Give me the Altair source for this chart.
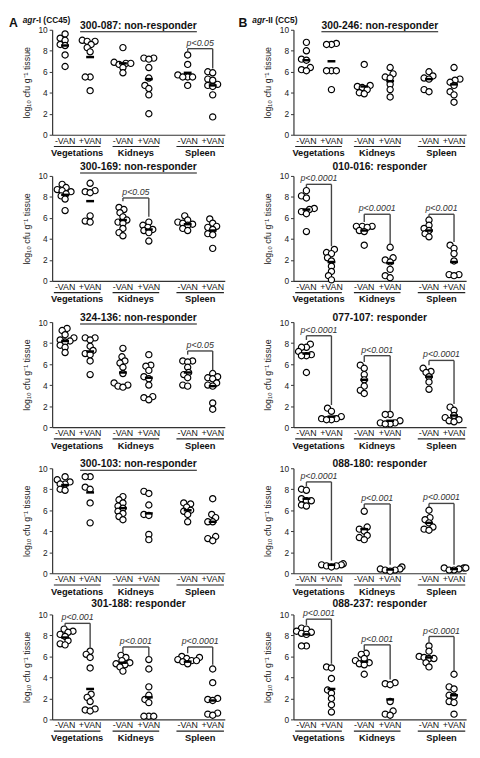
import altair as alt
import pandas as pd

# ---------------- data ----------------
ORGANS = ["Vegetations", "Kidneys", "Spleen"]
TREATMENTS = ["-VAN", "+VAN"]
HEADERS = [("A", "agr", "-I (CC45)"), ("B", "agr", "-II (CC5)")]

ISOLATES_A = ["300-087", "300-169", "324-136", "300-103", "301-188"]
STATUS_A = ["non-responder", "non-responder", "non-responder", "non-responder", "responder"]
ISOLATES_B = ["300-246", "010-016", "077-107", "088-180", "088-237"]
STATUS_B = ["non-responder", "responder", "responder", "responder", "responder"]

# order of groups: Veg -VAN, Veg +VAN, Kid -VAN, Kid +VAN, Spleen -VAN, Spleen +VAN
V_300_087 = [[9.6, 9.2, 9.0, 8.6, 8.5, 7.6, 6.5],
             [9.0, 8.9, 8.9, 8.6, 8.3, 7.9, 5.5, 5.5, 4.2],
             [8.3, 6.9, 6.8, 6.8, 6.7, 6.4, 5.9],
             [7.3, 7.3, 7.2, 6.4, 5.4, 4.7, 4.4, 3.8, 2.0],
             [7.6, 6.7, 5.7, 5.5, 5.5, 5.5, 4.7],
             [6.0, 5.9, 5.3, 5.2, 4.8, 4.7, 4.6, 3.8, 1.7]]
M_300_087 = [8.5, 7.4, 6.8, 5.3, 5.9, 4.7]
B_300_087 = [(2, "p<0.05", 8.2, 7.9, 6.3)]

V_300_169 = [[9.2, 8.9, 8.7, 8.6, 8.5, 8.3, 8.1, 7.8, 6.7],
             [9.3, 8.6, 8.5, 8.4, 6.2, 5.7, 5.6],
             [7.0, 6.8, 6.5, 6.1, 5.8, 5.6, 5.5, 5.0, 4.6, 4.3],
             [5.6, 5.3, 5.1, 4.9, 4.8, 4.6, 3.8],
             [6.2, 5.8, 5.6, 5.5, 5.4, 5.3, 5.0, 4.8],
             [5.9, 5.5, 5.2, 5.1, 4.9, 4.5, 4.4, 3.1]]
M_300_169 = [8.2, 7.6, 5.8, 4.9, 5.4, 4.8]
B_300_169 = [(1, "p<0.05", 7.9, 7.6, 6.1)]

V_324_136 = [[9.4, 9.2, 8.8, 8.5, 8.3, 8.2, 8.1, 7.8, 7.6, 7.1],
             [8.5, 8.5, 8.3, 7.7, 7.3, 7.0, 6.9, 6.3, 5.0],
             [7.5, 6.7, 6.3, 6.1, 5.7, 5.1, 4.2, 4.0, 3.9, 3.8],
             [6.9, 5.9, 5.8, 5.4, 4.8, 4.6, 4.0, 2.9, 2.8, 2.6],
             [6.3, 6.3, 6.2, 5.7, 5.2, 5.0, 4.7, 4.0, 3.9],
             [5.1, 4.8, 4.7, 4.6, 4.2, 4.0, 3.9, 2.3, 1.7]]
M_324_136 = [8.2, 7.2, 5.2, 4.7, 5.2, 3.9]
B_324_136 = [(2, "p<0.05", 7.25, 6.9, 5.4)]

V_300_103 = [[9.2, 8.9, 8.7, 8.5, 8.5, 8.0, 7.9],
             [9.2, 9.2, 8.2, 8.0, 6.7, 4.8],
             [7.3, 7.0, 6.7, 6.4, 6.2, 5.9, 5.7, 5.4, 5.1],
             [7.8, 7.6, 6.5, 5.6, 5.5, 3.7, 3.2],
             [6.7, 6.6, 6.3, 6.0, 5.9, 5.6, 4.9],
             [7.1, 5.6, 5.3, 4.9, 4.9, 3.5, 3.3, 3.1]]
M_300_103 = [8.4, 7.7, 6.2, 5.7, 6.0, 4.9]
B_300_103 = []

V_301_188 = [[8.6, 8.4, 8.3, 8.1, 7.9, 7.5, 7.2, 7.1],
             [6.5, 6.2, 5.9, 4.9, 2.4, 2.1, 1.7, 1.0, 0.9, 0.8],
             [6.1, 5.9, 5.6, 5.4, 5.3, 5.2, 5.0, 4.6],
             [5.7, 4.8, 3.1, 2.3, 1.9, 1.6, 0.3, 0.3, 0.3],
             [6.0, 5.9, 5.8, 5.7, 5.6, 5.6, 5.5, 5.3],
             [4.8, 3.5, 2.0, 1.9, 1.8, 0.6, 0.5, 0.4]]
M_301_188 = [7.8, 2.9, 5.4, 2.1, 5.5, 1.8]
B_301_188 = [(0, "p<0.001", 9.15, 8.8, 6.7), (1, "p<0.001", 6.9, 6.4, 6.0),
             (2, "p<0.0001", 6.9, 6.3, 5.2)]

V_300_246 = [[8.8, 8.0, 7.2, 7.1, 6.4, 6.2, 6.1],
             [8.7, 8.6, 8.6, 6.1, 6.1, 6.1, 4.3],
             [6.7, 4.7, 4.6, 4.5, 4.3, 4.0, 3.9],
             [6.4, 5.8, 5.5, 5.4, 4.8, 4.3, 3.6],
             [6.0, 5.6, 5.4, 5.3, 4.3, 4.1],
             [6.4, 5.3, 5.2, 5.0, 4.7, 4.1, 3.8, 3.1]]
M_300_246 = [7.1, 7.0, 4.6, 5.1, 5.3, 4.8]
B_300_246 = []

V_010_016 = [[8.6, 8.1, 7.9, 6.9, 6.8, 6.6, 6.4, 4.7],
             [3.0, 2.7, 2.6, 2.2, 1.9, 1.4, 0.9, 0.5, 0.1],
             [5.2, 5.2, 5.2, 5.1, 4.8, 4.7, 3.4],
             [3.2, 2.2, 2.0, 1.8, 1.1, 0.5, 0.3],
             [5.8, 5.3, 5.0, 4.8, 4.5, 4.2],
             [3.4, 3.1, 2.6, 1.9, 0.6, 0.6, 0.5]]
M_010_016 = [6.8, 1.8, 4.8, 1.7, 4.8, 1.8]
B_010_016 = [(0, "p<0.0001", 9.2, 8.95, 3.3), (1, "p<0.0001", 6.35, 5.6, 3.5),
             (2, "p<0.001", 6.35, 6.1, 3.7)]

V_077_107 = [[7.9, 7.6, 7.6, 7.2, 6.9, 6.8, 6.8, 5.2],
             [1.8, 1.5, 1.0, 0.8, 0.8, 0.7, 0.7],
             [5.9, 5.6, 5.0, 4.5, 3.9, 3.5, 3.2],
             [1.2, 1.2, 0.6, 0.4, 0.4, 0.3, 0.3],
             [5.6, 5.3, 5.2, 4.8, 4.3, 3.6],
             [1.9, 1.6, 1.1, 0.9, 0.7, 0.6, 0.5]]
M_077_107 = [7.0, 1.0, 4.5, 0.6, 4.8, 1.1]
B_077_107 = [(0, "p<0.0001", 8.7, 8.3, 2.1), (1, "p<0.001", 6.8, 6.2, 1.5),
             (2, "p<0.0001", 6.35, 5.9, 2.2)]

V_088_180 = [[8.0, 7.9, 7.1, 6.9, 6.9, 6.5, 6.4],
             [0.9, 0.8, 0.8, 0.7, 0.7, 0.6],
             [5.9, 4.4, 4.2, 4.0, 3.6, 3.4, 3.2],
             [0.6, 0.4, 0.4, 0.3, 0.3, 0.2],
             [6.0, 5.3, 5.1, 4.8, 4.4, 4.2, 4.1],
             [0.5, 0.5, 0.5, 0.4, 0.3, 0.3]]
M_088_180 = [7.1, 0.8, 4.2, 0.35, 4.8, 0.4]
B_088_180 = [(0, "p<0.0001", 8.7, 8.3, 1.2), (1, "p<0.001", 6.6, 6.2, 0.8),
             (2, "p<0.0001", 6.65, 6.3, 0.8)]

V_088_237 = [[8.7, 8.6, 8.4, 8.3, 8.2, 8.1, 7.0, 7.0],
             [5.0, 4.9, 3.9, 2.8, 2.5, 2.0, 1.4, 0.7],
             [6.3, 6.2, 5.8, 5.6, 5.4, 5.3, 5.2, 4.3],
             [3.5, 3.4, 3.3, 1.7, 0.8, 0.5, 0.4],
             [7.0, 6.5, 6.0, 5.9, 5.8, 5.8, 5.4, 5.0],
             [4.3, 3.1, 2.9, 2.3, 2.2, 1.7, 1.6, 0.5]]
M_088_237 = [8.1, 2.9, 5.5, 1.9, 5.9, 2.3]
B_088_237 = [(0, "p<0.001", 9.55, 9.0, 5.3), (1, "p<0.001", 7.1, 6.6, 3.8),
             (2, "p<0.0001", 7.9, 7.3, 4.6)]

VALUES_A = [V_300_087, V_300_169, V_324_136, V_300_103, V_301_188]
MEANS_A = [M_300_087, M_300_169, M_324_136, M_300_103, M_301_188]
BRACKETS_A = [B_300_087, B_300_169, B_324_136, B_300_103, B_301_188]
VALUES_B = [V_300_246, V_010_016, V_077_107, V_088_180, V_088_237]
MEANS_B = [M_300_246, M_010_016, M_077_107, M_088_180, M_088_237]
BRACKETS_B = [B_300_246, B_010_016, B_077_107, B_088_180, B_088_237]

# ---------------- layout ----------------
FONT = "Liberation Sans"
W, H = 176, 107
VSPACE, HSPACE = 42, 12
GROUP_X = [0.75, 2.2, 4.1, 5.6, 7.85, 9.3]
ORGAN_SPAN = [(0.1, 2.8), (3.5, 6.2), (7.2, 9.95)]
TITLE_Y = [-4, -9, -4, -4, -11]
HEADER_X = [-44, -56]
YTITLE = "log\u2081\u2080 cfu g\u207b\u00b9 tissue"
AXIS_COL = "#333333"

# Arial-bold like widths (em) for underline length
CW = {c: 0.556 for c in "0123456789"}
CW.update({"-": 0.333, ":": 0.333, " ": 0.278, "n": 0.611, "o": 0.611, "r": 0.389,
           "e": 0.556, "s": 0.556, "p": 0.611, "d": 0.611})


def text_w(s, size):
    return sum(CW.get(c, 0.58) for c in s) * size


def swarm(vals, d=5.0):
    order = sorted(range(len(vals)), key=lambda i: vals[i])
    cands = sorted([k * 0.5 for k in range(-24, 25)], key=lambda c: (abs(c), c))
    placed, offs = [], [0.0] * len(vals)
    for i in order:
        py = vals[i] * H / 10.0
        for c in cands:
            if all((c - px) ** 2 + (py - qy) ** 2 >= d * d for px, qy in placed):
                break
        placed.append((c, py))
        offs[i] = c
    return offs


def xenc(field):
    return alt.X(f"{field}:Q", scale=alt.Scale(domain=[0, 10], nice=False, zero=False),
                 axis=alt.Axis(labels=False, ticks=False, grid=False, title=None,
                               domainColor=AXIS_COL, domainWidth=1.2))


def yenc(field):
    return alt.Y(f"{field}:Q", scale=alt.Scale(domain=[0, 10], nice=False),
                 axis=alt.Axis(values=[0, 2, 4, 6, 8, 10], grid=False, title=YTITLE,
                               titleFont=FONT, titleFontSize=9, titleFontWeight="normal",
                               titleColor="#222222", titlePadding=7, labelFont=FONT,
                               labelFontSize=8.5, labelColor="#222222", labelPadding=2,
                               tickSize=3, tickColor=AXIS_COL, domainColor=AXIS_COL,
                               domainWidth=1.2))


ONE = pd.DataFrame({"k": [0]})


def panel(values, means, brackets, iso, status, row, col):
    rows = []
    for gi, vals in enumerate(values):
        for v, o in zip(vals, swarm(vals)):
            rows.append({"x": GROUP_X[gi] + o * 10.0 / W, "y": v})
    pts = pd.DataFrame(rows)
    mdf = pd.DataFrame({"x": GROUP_X, "y": means})

    layers = []
    layers.append(alt.Chart(pts).mark_point(shape="circle", filled=True, fill="white",
                                            stroke="black", strokeWidth=1.2, size=40,
                                            opacity=1).encode(x=xenc("x"), y=yenc("y")))
    layers.append(alt.Chart(mdf).mark_tick(orient="horizontal", size=8, thickness=2.5,
                                           color="black", opacity=1)
                  .encode(x=xenc("x"), y=yenc("y")))

    if brackets:
        hb = pd.DataFrame([{"xl": GROUP_X[2 * o], "xr": GROUP_X[2 * o + 1],
                            "xc": (GROUP_X[2 * o] + GROUP_X[2 * o + 1]) / 2,
                            "top": t, "p": p} for o, p, t, l, r in brackets])
        legs = pd.DataFrame([{"x": GROUP_X[2 * o], "top": t, "end": l} for o, p, t, l, r in brackets]
                            + [{"x": GROUP_X[2 * o + 1], "top": t, "end": r} for o, p, t, l, r in brackets])
        layers.append(alt.Chart(hb).mark_rule(color="#444444", strokeWidth=1.4)
                      .encode(x=xenc("xl"), x2="xr:Q", y=yenc("top")))
        layers.append(alt.Chart(legs).mark_rule(color="#444444", strokeWidth=1.4)
                      .encode(x=xenc("x"), y=yenc("top"), y2="end:Q"))
        layers.append(alt.Chart(hb).mark_text(font=FONT, fontSize=9, fontStyle="italic",
                                              color="#333333", dy=-6)
                      .encode(x=xenc("xc"), y=yenc("top"), text="p:N"))

    # treatment labels, underlines, organ labels
    tl = pd.DataFrame({"x": GROUP_X, "lab": TREATMENTS * 3})
    layers.append(alt.Chart(tl).mark_text(font=FONT, fontSize=9, color="#111111")
                  .encode(x=xenc("x"), y=alt.value(H + 6), text="lab:N"))
    ul = pd.DataFrame({"a": [s[0] for s in ORGAN_SPAN], "b": [s[1] for s in ORGAN_SPAN]})
    layers.append(alt.Chart(ul).mark_rule(color="#222222", strokeWidth=1.2)
                  .encode(x=xenc("a"), x2="b:Q", y=alt.value(H + 12)))
    ol = pd.DataFrame({"x": [(s[0] + s[1]) / 2 for s in ORGAN_SPAN], "lab": ORGANS})
    layers.append(alt.Chart(ol).mark_text(font=FONT, fontSize=9.5, fontWeight="bold",
                                          color="#111111")
                  .encode(x=xenc("x"), y=alt.value(H + 19), text="lab:N"))

    # panel title
    ty = TITLE_Y[row]
    title = f"{iso}: {status}"
    layers.append(alt.Chart(ONE).mark_text(text=title, font=FONT, fontSize=10.5,
                                           fontWeight="bold", color="#111111")
                  .encode(x=alt.value(W / 2), y=alt.value(ty)))
    if status == "non-responder":
        tw = text_w(title, 10.5)
        layers.append(alt.Chart(ONE).mark_rule(color="#111111", strokeWidth=1.1)
                      .encode(x=alt.value(W / 2 - tw / 2), x2=alt.value(W / 2 + tw / 2),
                              y=alt.value(ty + 6)))

    # column header on the first row
    if row == 0:
        letter, ital, rest = HEADERS[col]
        hx = HEADER_X[col]
        layers.append(alt.Chart(ONE).mark_text(text=letter, font=FONT, fontSize=12.5,
                                               fontWeight="bold", align="left",
                                               color="#111111")
                      .encode(x=alt.value(hx), y=alt.value(-7)))
        layers.append(alt.Chart(ONE).mark_text(text=ital, font=FONT, fontSize=8.5,
                                               fontWeight="bold", fontStyle="italic",
                                               align="left", color="#111111")
                      .encode(x=alt.value(hx + 14), y=alt.value(-10)))
        layers.append(alt.Chart(ONE).mark_text(text=rest, font=FONT, fontSize=8.5,
                                               fontWeight="bold", align="left",
                                               color="#111111")
                      .encode(x=alt.value(hx + 14 + 13.5), y=alt.value(-10)))

    return alt.layer(*layers).properties(width=W, height=H)


left = alt.vconcat(*[panel(VALUES_A[i], MEANS_A[i], BRACKETS_A[i], ISOLATES_A[i], STATUS_A[i], i, 0)
                     for i in range(5)], spacing=VSPACE, bounds="flush")
right = alt.vconcat(*[panel(VALUES_B[i], MEANS_B[i], BRACKETS_B[i], ISOLATES_B[i], STATUS_B[i], i, 1)
                      for i in range(5)], spacing=VSPACE, bounds="flush")

chart = (alt.hconcat(left, right, spacing=HSPACE)
         .properties(padding=0)
         .configure(font=FONT)
         .configure_view(stroke="transparent"))

chart.save("out.html", embed_options={"renderer": "svg", "actions": False})
